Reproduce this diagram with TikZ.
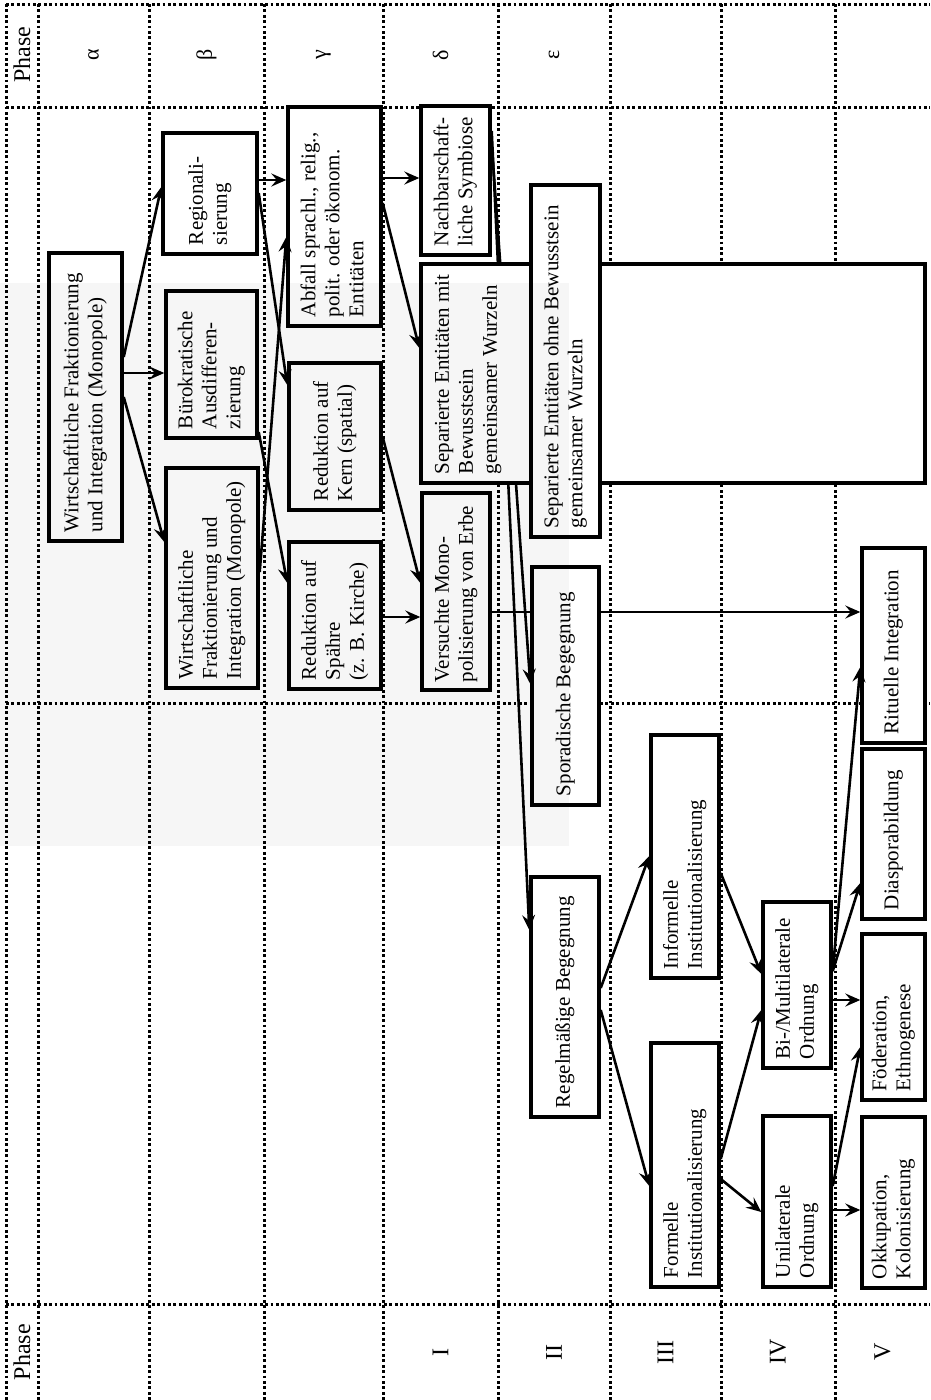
\documentclass[tikz,border=0pt]{standalone}
\usepackage{fontspec}
\setmainfont{Liberation Serif}
\usepackage{graphicx}
\usetikzlibrary{arrows.meta}
\newcommand{\rottext}[2]{\rotatebox{90}{\makebox[#1][l]{\begin{tabular}{@{}l@{}}#2\end{tabular}}}}
\newcommand{\rotlbl}[1]{\rotatebox{90}{#1}}
\pgfdeclarelayer{gridlayer}
\pgfdeclarelayer{lone}
\pgfdeclarelayer{ltwo}
\pgfdeclarelayer{lthree}
\pgfdeclarelayer{fg}
\pgfsetlayers{gridlayer,lone,ltwo,lthree,main,fg}
\begin{document}
\begin{tikzpicture}[x=1pt,y=-1pt,
  every node/.style={font=\fontsize{21}{24}\selectfont},
  box/.style={draw, line width=3.4pt, fill=white, inner sep=0pt},
  lbl/.style={inner sep=0pt, font=\fontsize{24}{26}\selectfont},
  glbl/.style={inner sep=0pt, font=\fontsize{22}{24}\selectfont},
  griddot/.style={line width=3pt, dash pattern=on 2.8pt off 2.6pt},
  arr/.style={line width=2.6pt, -{Stealth[length=15pt,width=13pt,inset=5.5pt]}}]
\useasboundingbox (0,0) rectangle (930,1400);

% grid
\begin{pgfonlayer}{gridlayer}
\foreach \x in {6,38,149,264,383,498,610,721,835} \draw[griddot] (\x,4) -- (\x,1400);
\foreach \y in {4,107,703,1304} \draw[griddot] (6,\y) -- (930,\y);
\end{pgfonlayer}

% header and footer labels
\node[lbl] (phtop) at (22,55) {\rotlbl{Phase}};
\node[glbl] (alpha) at (93.5,55) {\rotlbl{α}};
\node[glbl] (beta) at (206.5,55) {\rotlbl{β}};
\node[glbl] (gamma) at (323.5,55) {\rotlbl{γ}};
\node[glbl] (delta) at (440.5,55) {\rotlbl{δ}};
\node[glbl] (eps) at (554,55) {\rotlbl{ε}};
\node[lbl] (phbot) at (22,1352) {\rotlbl{Phase}};
\node[lbl] (r1) at (440.5,1352) {\rotlbl{I}};
\node[lbl] (r2) at (554,1352) {\rotlbl{II}};
\node[lbl] (r3) at (665.5,1352) {\rotlbl{III}};
\node[lbl] (r4) at (778,1352) {\rotlbl{IV}};
\node[lbl] (r5) at (882.5,1352) {\rotlbl{V}};

% boxes
\node[box, minimum width=73pt, minimum height=288pt] (w1) at (85.5,397) {\rottext{270pt}{Wirtschaftliche Fraktionierung\\und Integration (Monopole)}};
\node[box, minimum width=94pt, minimum height=121pt] (reg) at (210,193.5) {\rottext{103pt}{Regionali-\\sierung}};
\node[box, minimum width=91pt, minimum height=147pt] (buero) at (211.5,364.5) {\rottext{129pt}{Bürokratische\\Ausdifferen-\\zierung}};
\node[box, minimum width=92pt, minimum height=220pt] (w2) at (212,578) {\rottext{202pt}{Wirtschaftliche\\Fraktionierung und\\Integration (Monopole)}};
\node[box, minimum width=93pt, minimum height=219pt] (abfall) at (334.5,216.5) {\rottext{201pt}{Abfall sprachl., relig.,\\polit. oder ökonom.\\Entitäten}};
\node[box, minimum width=92pt, minimum height=147pt] (kern) at (335,436.5) {\rottext{129pt}{Reduktion auf\\Kern (spatial)}};
\node[box, minimum width=92pt, minimum height=147pt] (sphaere) at (335,615.5) {\rottext{129pt}{Reduktion auf\\Spähre\\(z. B. Kirche)}};
\node[box, minimum width=69pt, minimum height=149pt] (nachbar) at (455.5,180.5) {\rottext{131pt}{Nachbarschaft-\\liche Symbiose}};
\node[box, minimum width=110pt, minimum height=219pt] (sepmit) at (476,373.5) {\hspace*{-16pt}\rottext{201pt}{Separierte Entitäten mit\\Bewusstsein\\gemeinsamer Wurzeln}};
\node[box, minimum width=325pt, minimum height=219pt] (leer) at (762.5,373.5) {};
\node[box, minimum width=69pt, minimum height=352pt] (sepohne) at (565.5,361) {\rottext{334pt}{Separierte Entitäten ohne Bewusstsein\\gemeinsamer Wurzeln}};
\node[box, minimum width=68pt, minimum height=197pt] (versuchte) at (456,591.5) {\rottext{181pt}{Versuchte Mono-\\polisierung von Erbe}};
\begin{pgfonlayer}{ltwo}
\node[box, minimum width=67pt, minimum height=238pt] (sporad) at (565.5,686) {\rottext{220pt}{Sporadische Begegnung}};
\node[box, minimum width=68pt, minimum height=240pt] (regel) at (565,997) {\rottext{222pt}{Regelmäßige Begegnung}};
\end{pgfonlayer}
\node[box, minimum width=63pt, minimum height=195pt] (rituelle) at (893.5,645.5) {\rottext{177pt}{Rituelle Integration}};
\node[box, minimum width=68pt, minimum height=243pt] (inform) at (685,856.5) {\rottext{225pt}{Informelle\\Institutionalisierung}};
\node[box, minimum width=68pt, minimum height=166pt] (bimulti) at (797,985) {\rottext{148pt}{Bi-/Multilaterale\\Ordnung}};
\node[box, minimum width=63pt, minimum height=170pt] (diaspora) at (893.5,834) {\rottext{152pt}{Diasporabildung}};
\node[box, minimum width=63pt, minimum height=166pt] (foed) at (893.5,1017) {\rottext{148pt}{Föderation,\\Ethnogenese}};
\node[box, minimum width=68pt, minimum height=244pt] (formell) at (685,1165) {\rottext{226pt}{Formelle\\Institutionalisierung}};
\node[box, minimum width=68pt, minimum height=171pt] (unilat) at (797,1201.5) {\rottext{153pt}{Unilaterale\\Ordnung}};
\node[box, minimum width=63pt, minimum height=171pt] (okkup) at (893.5,1202.5) {\rottext{153pt}{Okkupation,\\Kolonisierung}};

% connectors hidden behind boxes
\begin{pgfonlayer}{lone}
\draw[arr] (versuchte.east |- 0,612) -- (rituelle.west |- 0,612);
\end{pgfonlayer}
\begin{pgfonlayer}{lthree}
\draw[arr] (nachbar.east |- 0,144) -- (sporad.west |- 0,684);
\draw[arr] (nachbar.east |- 0,131) -- (regel.west |- 0,930);
\end{pgfonlayer}

% connectors
\draw[arr] (w1.east |- 0,357) -- (reg.west |- 0,187);
\draw[arr] (w1.east |- 0,373) -- (buero.west |- 0,373);
\draw[arr] (w1.east |- 0,397) -- (w2.west |- 0,542);
\draw[arr] (reg.east |- 0,180) -- (abfall.west |- 0,180);
\draw[arr] (reg.east |- 0,193) -- (kern.west |- 0,385);
\draw[arr] (buero.east |- 0,432) -- (sphaere.west |- 0,583);
\draw[arr] (w2.east |- 0,572) -- (abfall.west |- 0,237);
\draw[arr] (abfall.east |- 0,178) -- (nachbar.west |- 0,178);
\draw[arr] (abfall.east |- 0,203) -- (sepmit.west |- 0,348);
\draw[arr] (kern.east |- 0,437) -- (versuchte.west |- 0,583);
\draw[arr] (sphaere.east |- 0,617) -- (versuchte.west |- 0,617);
\draw[arr] (regel.east |- 0,988) -- (inform.west |- 0,856);
\draw[arr] (regel.east |- 0,1010) -- (formell.west |- 0,1186);
\draw[arr] (inform.east |- 0,873) -- (bimulti.west |- 0,974);
\draw[arr] (formell.east |- 0,1159) -- (bimulti.west |- 0,1010);
\draw[arr] (formell.east |- 0,1179) -- (unilat.west |- 0,1212);
\draw[arr] (bimulti.east |- 0,971) -- (rituelle.west |- 0,667);
\draw[arr] (bimulti.east |- 0,971) -- (diaspora.west |- 0,883);
\draw[arr] (bimulti.east |- 0,1000) -- (foed.west |- 0,1000);
\draw[arr] (unilat.east |- 0,1186) -- (foed.west |- 0,1047);
\draw[arr] (unilat.east |- 0,1210) -- (okkup.west |- 0,1210);

% scan shading
\begin{pgfonlayer}{fg}
\fill[black, fill opacity=0.035] (0,283) rectangle (569,846);
\end{pgfonlayer}
\end{tikzpicture}
\end{document}
